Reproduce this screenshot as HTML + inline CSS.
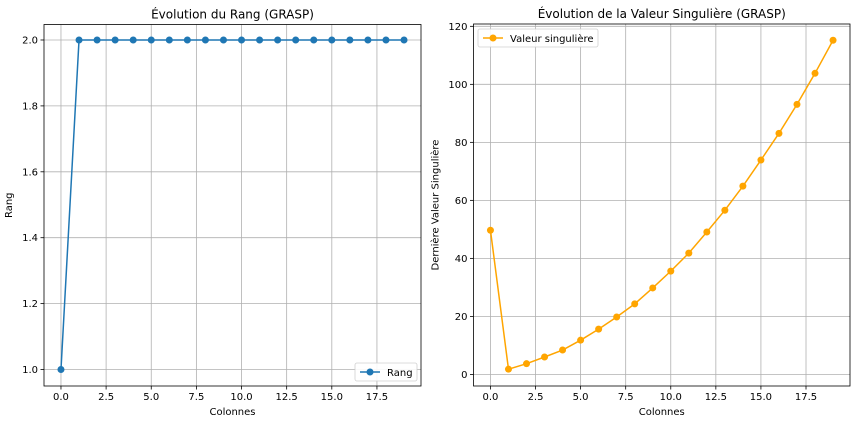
<!DOCTYPE html>
<html><head><meta charset="utf-8"><style>
html,body{margin:0;padding:0;background:#fff;}
svg{display:block;font-family:"DejaVu Sans","Liberation Sans",sans-serif;}
</style></head><body>
<svg id="c" width="856" height="424" viewBox="0 0 856 424"></svg>
<script>
const cols = [0,1,2,3,4,5,6,7,8,9,10,11,12,13,14,15,16,17,18,19];
const rangValues = [1,2,2,2,2,2,2,2,2,2,2,2,2,2,2,2,2,2,2,2];
const svValues = [49.7,1.8,3.7,6.0,8.4,11.8,15.6,19.8,24.3,29.8,35.6,41.8,49.1,56.6,64.9,73.9,83.1,93.1,103.8,115.2];
const xTicks = [0,2.5,5,7.5,10,12.5,15,17.5];
const xTickLabels = ["0.0","2.5","5.0","7.5","10.0","12.5","15.0","17.5"];
const leftYTicks = [1.0,1.2,1.4,1.6,1.8,2.0];
const leftYTickLabels = ["1.0","1.2","1.4","1.6","1.8","2.0"];
const rightYTicks = [0,20,40,60,80,100,120];
const rightYTickLabels = ["0","20","40","60","80","100","120"];

const NS="http://www.w3.org/2000/svg";
const svg=document.getElementById('c');
function mk(tag,attrs,parent,text){const e=document.createElementNS(NS,tag);for(const k in attrs)e.setAttribute(k,attrs[k]);if(text!==undefined)e.textContent=text;(parent||svg).appendChild(e);return e;}

function panel(o){
  const g=mk('g',{});
  
  
  const sx=v=>o.x0+(v-o.xmin)/(o.xmax-o.xmin)*(o.x1-o.x0);
  const sy=v=>o.y1-(v-o.ymin)/(o.ymax-o.ymin)*(o.y1-o.y0);
  // grid + ticks
  o.xt.forEach((t,i)=>{const x=sx(t);
    const l=mk('line',{x1:x,x2:x,y1:o.y0,y2:o.y1,stroke:'#b0b0b0','stroke-width':0.8},g);
    
    mk('line',{x1:x,x2:x,y1:o.y1,y2:o.y1+3.5,stroke:'#000','stroke-width':0.8},g);
    const tx=mk('text',{x:x,y:o.y1+14,'font-size':10,'text-anchor':'middle',fill:'#000'},g,o.xtl[i]);
    
  });
  o.yt.forEach((t,i)=>{const y=sy(t);
    const l=mk('line',{x1:o.x0,x2:o.x1,y1:y,y2:y,stroke:'#b0b0b0','stroke-width':0.8},g);
    
    mk('line',{x1:o.x0-3.5,x2:o.x0,y1:y,y2:y,stroke:'#000','stroke-width':0.8},g);
    const tx=mk('text',{x:o.x0-6,y:y+3.5,'font-size':10,'text-anchor':'end',fill:'#000'},g,o.ytl[i]);
    
  });
  // line
  const pts=o.xs.map((v,i)=>sx(v)+','+sy(o.ys[i])).join(' ');
  const pl=mk('polyline',{points:pts,fill:'none',stroke:o.color,'stroke-width':1.5},g);
  
  o.xs.forEach((v,i)=>{const c=mk('circle',{cx:sx(v),cy:sy(o.ys[i]),r:3.5,fill:o.color},g);
    });
  // frame
  mk('rect',{x:o.x0,y:o.y0,width:o.x1-o.x0,height:o.y1-o.y0,fill:'none',stroke:'#000','stroke-width':0.8},g);
  const ti=mk('text',{x:(o.x0+o.x1)/2,y:o.y0-6,'font-size':12,'text-anchor':'middle',fill:'#000'},g,o.title);
  
  const xl=mk('text',{x:(o.x0+o.x1)/2,y:o.y1+29,'font-size':10,'text-anchor':'middle',fill:'#000'},g,'Colonnes');
  
  const yx=o.x0-o.ylabOff;const yy=(o.y0+o.y1)/2;
  const yl=mk('text',{x:yx,y:yy,'font-size':10,'text-anchor':'middle',fill:'#000',transform:`rotate(-90 ${yx} ${yy})`},g,o.ylabel);
  
  // legend
  const lg=mk('g',{},g);
  
  mk('rect',{x:o.lx,y:o.ly,width:o.lw,height:18,rx:2,fill:'#fff',stroke:'#ccc','stroke-width':0.8,opacity:0.9},lg);
  mk('line',{x1:o.lx+5,x2:o.lx+25,y1:o.ly+9,y2:o.ly+9,stroke:o.color,'stroke-width':1.5},lg);
  mk('circle',{cx:o.lx+15,cy:o.ly+9,r:3.5,fill:o.color},lg);
  const lt=mk('text',{x:o.lx+32,y:o.ly+13,'font-size':10,fill:'#000'},lg,o.series==='rang'?'Rang':'Valeur singulière');
  
}
panel({name:'rang-panel',series:'rang',x0:44,x1:421,y0:24.5,y1:386,xmin:-0.94,xmax:19.94,ymin:0.95,ymax:2.047,
  xs:cols,ys:rangValues,xt:xTicks,xtl:xTickLabels,yt:leftYTicks,ytl:leftYTickLabels,color:'#1f77b4',
  title:'Évolution du Rang (GRASP)',ylabel:'Rang',ylabOff:32,lx:355,ly:363,lw:62});
panel({name:'valeur-panel',series:'valeur',x0:473.5,x1:850,y0:24,y1:386,xmin:-0.94,xmax:19.94,ymin:-4.0,ymax:120.8,
  xs:cols,ys:svValues,xt:xTicks,xtl:xTickLabels,yt:rightYTicks,ytl:rightYTickLabels,color:'#ffa500',
  title:'Évolution de la Valeur Singulière (GRASP)',ylabel:'Dernière Valeur Singulière',ylabOff:35,lx:478,ly:29,lw:120});
</script>
</body></html>
